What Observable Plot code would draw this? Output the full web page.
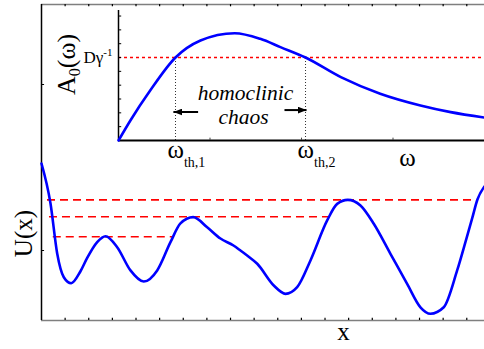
<!DOCTYPE html>
<html><head><meta charset="utf-8">
<script src="https://cdn.jsdelivr.net/npm/d3@7"></script>
<script src="https://cdn.jsdelivr.net/npm/@observablehq/plot@0.6"></script>
<style>
html,body{margin:0;padding:0;background:#fff;}
#wrap{position:relative;width:484px;height:349px;overflow:hidden;background:#fff;}
#wrap svg{position:absolute;left:0;top:0;background:transparent !important;}
</style></head><body><div id="wrap"></div>
<script>
// ---- main panel: potential U(x) ----
const xPos = [0, 0.381, 0.664, 0.944, 1.257, 1.65, 1.934, 2.357, 2.709, 3.203, 3.766, 4.329, 4.897, 5.459, 5.881, 6.419, 7.012, 7.575, 8.125, 8.421, 8.704, 9.131, 9.832, 10.326, 10.821, 11.384, 12.091, 12.514, 12.962, 13.5, 14.063, 14.769, 15.476, 16.039, 16.462, 17.025, 17.592, 17.985, 18.227, 18.451, 18.747];
const uVal = [0.524, 0.283, -0.018, -0.161, -0.197, -0.125, -0.045, 0.050, 0.086, 0.020, -0.120, -0.187, -0.120, 0.050, 0.163, 0.201, 0.140, 0.072, 0.030, 0, -0.030, -0.080, -0.211, -0.261, -0.221, -0.060, 0.181, 0.281, 0.305, 0.271, 0.161, -0.020, -0.201, -0.342, -0.381, -0.342, -0.120, 0.072, 0.193, 0.307, 0.386];
const levels = [0.305, 0.203, 0.083];
const levelStart = [0.254, 0.338, 0.498];
const levelEnd = [18.30, 12.23, 5.586];
const xTicks = d3.range(1, 19);
const uTicks = [0, 1];

// ---- inset: amplitude A0(omega) ----
const omega = [0, 0.13, 0.35, 0.623, 0.896, 1.27, 1.55, 1.77, 2.044, 2.43, 2.86, 3.30, 3.63, 4.0];
const amp = [0, 1.45, 3.65, 6.0, 7.23, 7.76, 7.35, 6.75, 6.0, 4.58, 3.38, 2.53, 2.05, 1.66];
const omegaTh = [0.623, 2.044];
const thLabels = ["ωth,1", "ωth,2"];
const dLevel = 6;
const omegaTicks = [1, 2, 3];
const ampTicks = d3.range(1, 10);
const arrowFrom = [0.87, 1.814];
const arrowTo = [0.60, 2.055];
const arrowLevel = [2.06, 2.2];

const serif = "Liberation Serif, Times New Roman, serif";
const X0 = 0, X1 = 18.75, U0 = -0.4217, U1 = 1.482;

const main = Plot.plot({
  width: 484, height: 349, marginLeft: 41, marginRight: 0, marginTop: 4, marginBottom: 29,
  x: {domain: [X0, X1], axis: null},
  y: {domain: [U0, U1], axis: null},
  style: {background: "transparent", fontFamily: serif},
  marks: [
    Plot.ruleY([U1, U0], {stroke: "#7f7f7f", strokeWidth: 1.6}),
    Plot.ruleX(xTicks, {x: d => d, y1: U1, y2: U1 - 0.014, stroke: "black", strokeWidth: 1.2}),
    Plot.ruleX(xTicks, {x: d => d, y1: U0, y2: U0 + 0.014, stroke: "black", strokeWidth: 1.2}),
    Plot.ruleX([X0], {y1: U0, y2: U1, stroke: "black", strokeWidth: 1.5}),
    Plot.ruleY(uTicks, {y: d => d, x1: X0, x2: X0 + 0.13, stroke: "black"}),
    Plot.ruleY(levels, {y: d => d, x1: (d, i) => levelStart[i], x2: (d, i) => levelEnd[i], stroke: "#ff0000", strokeWidth: 1.6, strokeDasharray: "8,5"}),
    Plot.line(xPos.map((x, i) => ({x, u: uVal[i]})), {x: "x", y: "u", curve: "monotone-x", stroke: "#0000ff", strokeWidth: 2.6}),
    Plot.text(["U(x)"], {x: -0.423, y: 0.102, text: d => d, rotate: -90, fontSize: 25, fontFamily: serif, textAnchor: "middle", lineAnchor: "bottom", fill: "black"}),
    Plot.text(["x"], {x: 12.78, y: -0.542, text: d => d, fontSize: 25, fontFamily: serif, textAnchor: "middle", lineAnchor: "bottom", fill: "black"})
  ]
});

function tri(color) {
  const ns = "http://www.w3.org/2000/svg";
  const m = document.createElementNS(ns, "marker");
  m.setAttribute("viewBox", "-9 -3.5 9 7");
  m.setAttribute("markerWidth", "9");
  m.setAttribute("markerHeight", "7");
  m.setAttribute("markerUnits", "userSpaceOnUse");
  m.setAttribute("orient", "auto");
  m.setAttribute("refX", "0");
  m.setAttribute("refY", "0");
  const p = document.createElementNS(ns, "path");
  p.setAttribute("d", "M-9,-3.5L0,0L-9,3.5Z");
  p.setAttribute("fill", color || "black");
  p.setAttribute("stroke", "none");
  m.appendChild(p);
  return m;
}

const inset = Plot.plot({
  width: 484, height: 349, marginLeft: 118, marginRight: 0, marginTop: 10, marginBottom: 209,
  x: {domain: [0, 4], axis: null},
  y: {domain: [0, 9.4], axis: null},
  style: {background: "transparent", fontFamily: serif},
  marks: [
    Plot.ruleY([dLevel], {stroke: "#ff0000", strokeWidth: 1.3, strokeDasharray: "3,3"}),
    Plot.ruleX(omegaTh, {x: d => d, y1: 0, y2: dLevel, stroke: "#333", strokeWidth: 1, strokeDasharray: "1,2"}),
    Plot.ruleX([0], {y1: 0, y2: 9.4, stroke: "black", strokeWidth: 1.5}),
    Plot.ruleY([0], {x1: 0, x2: 4, stroke: "black", strokeWidth: 1.8}),
    Plot.ruleY(ampTicks, {y: d => d, x1: 0, x2: 0.035, stroke: "black"}),
    Plot.ruleX(omegaTicks, {x: d => d, y1: 0, y2: 0.17, stroke: "#444"}),
    Plot.line(omega.map((w, i) => ({w, a: amp[i]})), {x: "w", y: "a", curve: "monotone-x", stroke: "#0000ff", strokeWidth: 2.6}),
    Plot.link(arrowFrom.map((f, i) => ({f, t: arrowTo[i], l: arrowLevel[i]})), {x1: "f", x2: "t", y1: "l", y2: "l", stroke: "black", strokeWidth: 2, markerEnd: tri}),
    Plot.text(["A0(ω)"], {x: -0.47, y: 5.5, text: d => d, rotate: -90, fontSize: 26, fontFamily: serif, textAnchor: "middle", lineAnchor: "bottom", fill: "black"}),
    Plot.text(["Dγ-1"], {x: -0.066, y: 5.64, text: d => d, fontSize: 17, fontFamily: serif, textAnchor: "end", lineAnchor: "bottom", fill: "black"}),
    Plot.text(["homoclinic"], {x: 1.388, y: 2.96, text: d => d, fontSize: 21.5, fontStyle: "italic", fontFamily: serif, textAnchor: "middle", lineAnchor: "bottom", fill: "black"}),
    Plot.text(["chaos"], {x: 1.366, y: 1.157, text: d => d, fontSize: 21.5, fontStyle: "italic", fontFamily: serif, textAnchor: "middle", lineAnchor: "bottom", fill: "black"}),
    Plot.text(omegaTh, {x: d => d, y: -1.23, text: (d, i) => thLabels[i], dx: -8, fontSize: 25, fontFamily: serif, textAnchor: "start", lineAnchor: "bottom", fill: "black"}),
    Plot.text(["ω"], {x: 3.158, y: -1.81, text: d => d, fontSize: 25, fontFamily: serif, textAnchor: "middle", lineAnchor: "bottom", fill: "black"})
  ]
});

function rich(svg, key, parts) {
  d3.select(svg).selectAll("text").filter(function () { return this.textContent === key; }).each(function () {
    const t = d3.select(this);
    t.text("");
    parts.forEach(([s, size, dy]) => {
      t.append("tspan").attr("font-size", size).attr("dy", dy || 0).text(s);
    });
  });
}
rich(inset, "A0(ω)", [["A", 26, 0], ["0", 16, 5], ["(ω)", 26, -5]]);
rich(inset, "Dγ-1", [["Dγ", 17, 0], ["-1", 11, -7]]);
rich(inset, "ωth,1", [["ω", 25, 0], ["th,1", 14, 9]]);
rich(inset, "ωth,2", [["ω", 25, 0], ["th,2", 14, 9]]);

const wrap = document.getElementById("wrap");
main.style.background = "transparent";
inset.style.background = "transparent";
wrap.appendChild(main);
wrap.appendChild(inset);
</script></body></html>
